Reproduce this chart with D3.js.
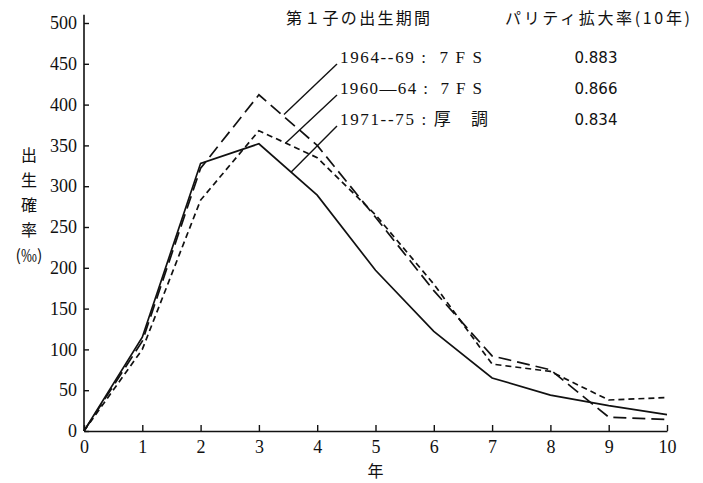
<!DOCTYPE html>
<html>
<head>
<meta charset="utf-8">
<script src="https://cdn.jsdelivr.net/npm/d3@7"></script>
<style>
  body { margin: 0; background: #fff; }
  text { fill: #111; }
</style>
</head>
<body>
<div id="chart"></div>
<script>
// years since first birth
var years = [0, 1, 2, 3, 4, 5, 6, 7, 8, 9, 10];
var yTicks = [0, 50, 100, 150, 200, 250, 300, 350, 400, 450, 500];

// birth probability (per mille)
var fs6469 = [0, 110, 322, 412, 350, 262, 172, 92, 75, 17, 14];
var fs6064 = [0, 100, 283, 368, 335, 265, 180, 82, 73, 38, 41];
var kocho7175 = [0, 115, 328, 352, 289, 197, 122, 65, 44, 31, 20];

var seriesNames = ["1964--69 :  7 F S", "1960\u201464 :  7 F S", "1971--75 : 厚　調"];
var parityRates = ["0.883", "0.866", "0.834"];
// where each leader line touches its curve (x in years, y in per mille)
var leaderX = [3.43, 3.46, 3.55];
var leaderY = [388, 353, 317];

var yLabelChars = ["出", "生", "確", "率", "(‰)"];

var width = 703, height = 483;
var x = d3.scaleLinear().domain([0, 10]).range([84, 667]);
var y = d3.scaleLinear().domain([0, 500]).range([431, 23]);

var svg = d3.select("#chart").append("svg")
  .attr("width", width)
  .attr("height", height);

var serif = "'Liberation Serif', 'DejaVu Serif', serif";
var cjk = "'Noto Sans CJK JP', 'Noto Sans', sans-serif";

// y axis (ticks point inward)
var yAxis = d3.axisLeft(y)
  .tickValues(yTicks)
  .tickSizeInner(-5)
  .tickSizeOuter(0)
  .tickPadding(7);
var gy = svg.append("g")
  .attr("transform", "translate(" + x(0) + ",0)")
  .call(yAxis);
gy.select(".domain").remove();
gy.selectAll("line").attr("stroke", "#111").attr("stroke-width", 1.4);
gy.selectAll("text").style("font-family", serif).style("font-size", "18px");

svg.append("line")
  .attr("x1", x(0)).attr("x2", x(0))
  .attr("y1", y(0)).attr("y2", y(510))
  .attr("stroke", "#111").attr("stroke-width", 1.6);

// x axis
var xAxis = d3.axisBottom(x)
  .tickValues(years)
  .tickSizeInner(-6)
  .tickSizeOuter(0)
  .tickPadding(9);
var gx = svg.append("g")
  .attr("transform", "translate(0," + y(0) + ")")
  .call(xAxis);
gx.select(".domain").attr("stroke", "#111").attr("stroke-width", 1.6);
gx.selectAll("line").attr("stroke", "#111").attr("stroke-width", 1.4);
gx.selectAll("text").style("font-family", serif).style("font-size", "18px");

svg.append("text")
  .attr("x", x(5))
  .attr("y", 477)
  .attr("text-anchor", "middle")
  .style("font-family", cjk)
  .style("font-size", "16px")
  .text("年");

// y axis title, stacked vertically
svg.selectAll(".ylab")
  .data(yLabelChars)
  .enter().append("text")
  .attr("class", "ylab")
  .attr("x", 29)
  .attr("y", function(d, i) { return 161 + i * 25; })
  .attr("text-anchor", "middle")
  .style("font-family", cjk)
  .style("font-size", "16px")
  .text(function(d) { return d; });

// curves
var line = d3.line()
  .x(function(d, i) { return x(years[i]); })
  .y(function(d) { return y(d); });

var curves = [
  {values: fs6469, dash: "13,6"},
  {values: fs6064, dash: "6,4"},
  {values: kocho7175, dash: null}
];

svg.selectAll(".curve")
  .data(curves)
  .enter().append("path")
  .attr("class", "curve")
  .attr("d", function(d) { return line(d.values); })
  .attr("fill", "none")
  .attr("stroke", "#111")
  .attr("stroke-width", 1.7)
  .attr("stroke-dasharray", function(d) { return d.dash; });

// legend headers
svg.append("text")
  .attr("x", 286).attr("y", 24)
  .attr("textLength", 144).attr("lengthAdjust", "spacing")
  .style("font-family", cjk).style("font-size", "16px")
  .text("第１子の出生期間");
svg.append("text")
  .attr("x", 505).attr("y", 24)
  .attr("textLength", 185).attr("lengthAdjust", "spacing")
  .style("font-family", cjk).style("font-size", "16px")
  .text("パリティ拡大率(10年)");

var rowY = [57, 88, 119];

svg.selectAll(".sname")
  .data(seriesNames)
  .enter().append("text")
  .attr("class", "sname")
  .attr("x", 340)
  .attr("y", function(d, i) { return rowY[i] + 6; })
  .attr("textLength", function(d, i) { return i === 2 ? 148 : 142; })
  .attr("lengthAdjust", "spacing")
  .style("font-family", serif + ", " + cjk)
  .style("font-size", "17px")
  .style("white-space", "pre")
  .text(function(d) { return d; });

svg.selectAll(".prate")
  .data(parityRates)
  .enter().append("text")
  .attr("class", "prate")
  .attr("x", 596)
  .attr("y", function(d, i) { return rowY[i] + 6; })
  .attr("text-anchor", "middle")
  .style("font-family", "'DejaVu Sans', sans-serif")
  .style("font-size", "15px")
  .text(function(d) { return d; });

// leader lines from labels to curves
svg.selectAll(".leader")
  .data(seriesNames)
  .enter().append("line")
  .attr("class", "leader")
  .attr("x1", 337)
  .attr("y1", function(d, i) { return rowY[i] + 7; })
  .attr("x2", function(d, i) { return x(leaderX[i]); })
  .attr("y2", function(d, i) { return y(leaderY[i]); })
  .attr("stroke", "#111")
  .attr("stroke-width", 1.4);
</script>
</body>
</html>
